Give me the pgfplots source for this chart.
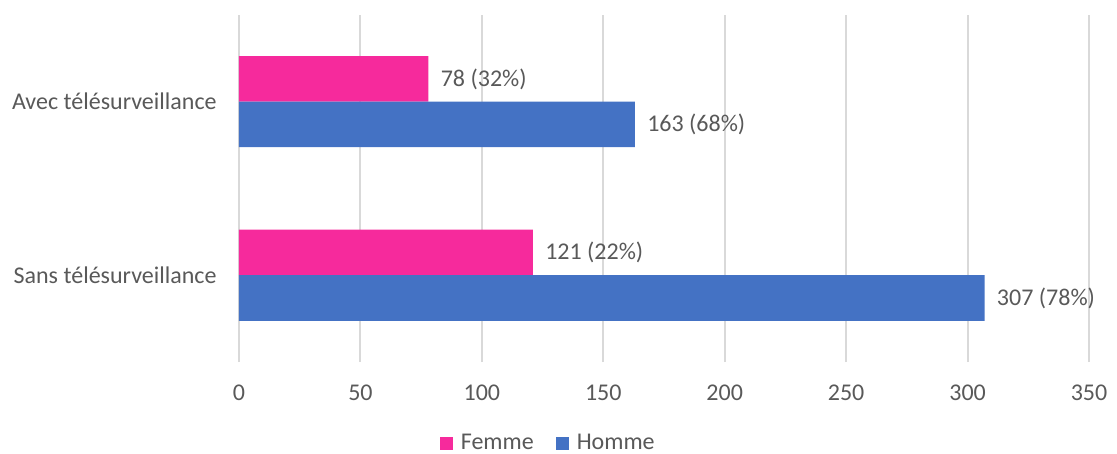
\documentclass[border=0pt]{standalone}
\usepackage{pgfplots}
\pgfplotsset{compat=1.18}
\usepackage{fontspec}
\setmainfont{Carlito}
\definecolor{femme}{HTML}{F62A9C}
\definecolor{homme}{HTML}{4472C4}
\definecolor{txt}{HTML}{595959}
\definecolor{gridc}{HTML}{D9D9D9}
\begin{document}
\fontsize{12}{14}\selectfont
\begin{tikzpicture}
\begin{axis}[
  name=ax,
  scale only axis,
  width=425pt, height=173.5pt,
  xmin=0, xmax=350, ymin=-0.5, ymax=1.5,
  xtick={0,50,...,350},
  ytick={0,1},
  yticklabels={Sans télésurveillance, Avec télésurveillance},
  xmajorgrids,
  grid style={gridc, line width=1pt},
  axis line style={draw=none},
  major tick length=0pt,
  tick label style={font=\fontsize{12}{14}\selectfont, text=txt},
  /pgf/number format/assume math mode=true,
  xticklabel style={yshift=-7.5pt},
  yticklabel style={xshift=-7pt},
  xbar, bar width=22.75pt,
  nodes near coords,
  point meta=explicit symbolic,
  every node near coord/.append style={font=\fontsize{12}{14}\selectfont, text=txt, anchor=west, xshift=2pt},
  legend columns=2,
  legend style={draw=none, at={(0.365,-0.236)}, anchor=center, font=\fontsize{12}{14}\selectfont, text=txt,
    inner sep=1pt,
    /tikz/every even column/.append style={column sep=9pt}},
  legend image code/.code={\fill[#1] (0pt,-3.25pt) rectangle (6.5pt,3.25pt); \path (8.5pt,0pt);},
]
\addplot[fill=femme, draw=none, bar shift=11.375pt] coordinates {(121,0) [121 (22\%)] (78,1) [78 (32\%)]};
\addplot[fill=homme, draw=none, bar shift=-11.375pt] coordinates {(307,0) [307 (78\%)] (163,1) [163 (68\%)]};
\legend{Femme, Homme}
\end{axis}
\pgfresetboundingbox
\path[use as bounding box] ([xshift=-119.5pt,yshift=-46pt]ax.south west) rectangle ++(558.5pt,227pt);
\end{tikzpicture}
\end{document}
